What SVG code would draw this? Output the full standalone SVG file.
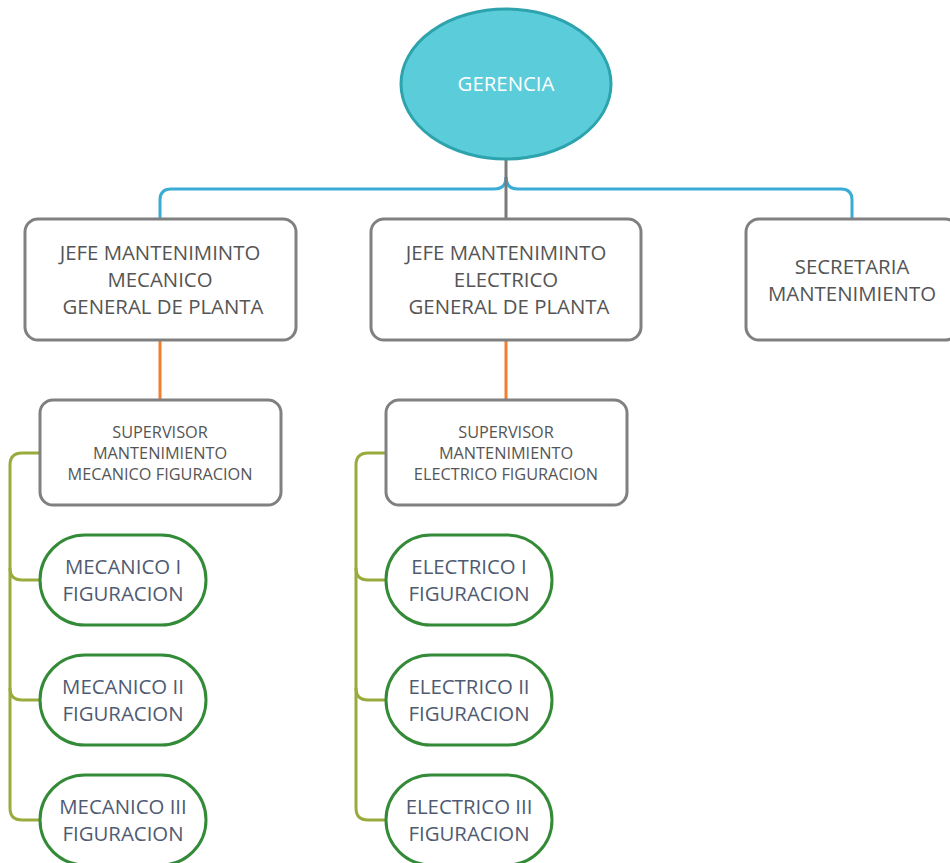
<svg xmlns="http://www.w3.org/2000/svg" width="950" height="863" viewBox="0 0 950 863">
<style>
text{font-family:"Open Sans","Noto Sans","Liberation Sans",sans-serif;text-anchor:middle}
.box{fill:#fff;stroke:#808080;stroke-width:3}
.pill{fill:#fff;stroke:#338a37;stroke-width:3}
.t{font-size:20.4px;fill:#555}
.s{font-size:16.3px;fill:#555}
.g{font-size:20.4px;fill:#4f5b73}
.blue{fill:none;stroke:#3aacd6;stroke-width:3}
.gray{fill:none;stroke:#7a7a7a;stroke-width:3}
.orange{fill:none;stroke:#f07f2e;stroke-width:3}
.olive{fill:none;stroke:#9aab3e;stroke-width:3}
</style>
<g id="connectors">
<path class="blue" d="M160 219 V200 Q160 189 171 189 H494 Q506 189 506 177"/>
<path class="blue" d="M852 219 V200 Q852 189 841 189 H518 Q506 189 506 177"/>
<path class="gray" d="M506 159 V219"/>
<path class="orange" d="M160 340 V400"/>
<path class="orange" d="M506 340 V400"/>
<path class="olive" d="M40 453 H22 Q10 453 10 465 V808 Q10 820 22 820 H40"/>
<path class="olive" d="M10 568 Q10 580 22 580 H40"/>
<path class="olive" d="M10 688 Q10 700 22 700 H40"/>
<path class="olive" d="M386 453 H368 Q356 453 356 465 V808 Q356 820 368 820 H386"/>
<path class="olive" d="M356 568 Q356 580 368 580 H386"/>
<path class="olive" d="M356 688 Q356 700 368 700 H386"/>
</g>
<g id="gerencia">
<ellipse cx="506" cy="84" rx="105" ry="75" fill="#5bcdda" stroke="#2ca3ad" stroke-width="3"/>
<text x="506" y="91" style="font-size:20.4px;fill:#fff">GERENCIA</text>
</g>
<g id="jefe-mecanico">
<rect class="box" x="25" y="219" width="271" height="121" rx="13"/>
<text class="t" x="160" y="260">JEFE MANTENIMINTO</text>
<text class="t" x="160" y="287">MECANICO</text>
<text class="t" x="163" y="314">GENERAL DE PLANTA</text>
</g>
<g id="jefe-electrico">
<rect class="box" x="371" y="219" width="270" height="121" rx="13"/>
<text class="t" x="506" y="260">JEFE MANTENIMINTO</text>
<text class="t" x="506" y="287">ELECTRICO</text>
<text class="t" x="509" y="314">GENERAL DE PLANTA</text>
</g>
<g id="secretaria">
<rect class="box" x="746" y="219" width="212" height="121" rx="13"/>
<text class="t" x="852" y="274">SECRETARIA</text>
<text class="t" x="852" y="301">MANTENIMIENTO</text>
</g>
<g id="supervisor-mecanico">
<rect class="box" x="40" y="400" width="241" height="105" rx="13"/>
<text class="s" x="160" y="438">SUPERVISOR</text>
<text class="s" x="160" y="459">MANTENIMIENTO</text>
<text class="s" x="160" y="480">MECANICO FIGURACION</text>
</g>
<g id="supervisor-electrico">
<rect class="box" x="386" y="400" width="241" height="105" rx="13"/>
<text class="s" x="506" y="438">SUPERVISOR</text>
<text class="s" x="506" y="459">MANTENIMIENTO</text>
<text class="s" x="506" y="480">ELECTRICO FIGURACION</text>
</g>
<g id="mecanico-1">
<rect class="pill" x="40" y="535" width="166" height="90" rx="45"/>
<text class="g" x="123" y="574">MECANICO I</text>
<text class="g" x="123" y="601">FIGURACION</text>
</g>
<g id="mecanico-2">
<rect class="pill" x="40" y="655" width="166" height="90" rx="45"/>
<text class="g" x="123" y="694">MECANICO II</text>
<text class="g" x="123" y="721">FIGURACION</text>
</g>
<g id="mecanico-3">
<rect class="pill" x="40" y="775" width="166" height="90" rx="45"/>
<text class="g" x="123" y="814">MECANICO III</text>
<text class="g" x="123" y="841">FIGURACION</text>
</g>
<g id="electrico-1">
<rect class="pill" x="386" y="535" width="166" height="90" rx="45"/>
<text class="g" x="469" y="574">ELECTRICO I</text>
<text class="g" x="469" y="601">FIGURACION</text>
</g>
<g id="electrico-2">
<rect class="pill" x="386" y="655" width="166" height="90" rx="45"/>
<text class="g" x="469" y="694">ELECTRICO II</text>
<text class="g" x="469" y="721">FIGURACION</text>
</g>
<g id="electrico-3">
<rect class="pill" x="386" y="775" width="166" height="90" rx="45"/>
<text class="g" x="469" y="814">ELECTRICO III</text>
<text class="g" x="469" y="841">FIGURACION</text>
</g>
</svg>
